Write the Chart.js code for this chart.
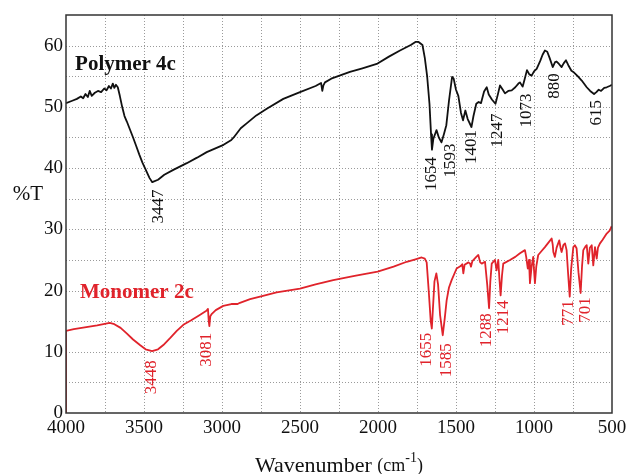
<!DOCTYPE html>
<html>
<head>
<meta charset="utf-8">
<script src="https://cdn.jsdelivr.net/npm/chart.js@4.4.1/dist/chart.umd.min.js"></script>
<style>
  html, body { margin: 0; padding: 0; background: #fff; }
  canvas { display: block; }
</style>
</head>
<body>
<canvas id="irChart" width="627" height="474"></canvas>
<script>
// IR spectra: [wavenumber cm-1, %T]
const polymer4c = [
  [4000, 50.6], [3960, 51.0], [3930, 51.3], [3905, 51.7], [3890, 51.4], [3875, 52.1],
  [3860, 51.6], [3848, 52.6], [3835, 51.8], [3815, 52.3], [3795, 52.6], [3775, 52.4],
  [3755, 53.0], [3740, 52.7], [3725, 53.4], [3712, 53.0], [3700, 53.8], [3690, 53.1],
  [3680, 53.6], [3668, 53.2], [3655, 51.8], [3640, 50.0], [3625, 48.5], [3610, 47.6],
  [3590, 46.3], [3570, 45.0], [3550, 43.6], [3530, 42.2], [3510, 40.9], [3490, 39.8],
  [3465, 38.4], [3447, 37.7], [3410, 38.1], [3370, 38.9], [3312, 39.7], [3226, 40.8],
  [3160, 41.7], [3098, 42.6], [2990, 43.8], [2940, 44.6], [2925, 45.0], [2880, 46.5],
  [2842, 47.3], [2780, 48.6], [2713, 49.7], [2607, 51.3], [2500, 52.4], [2400, 53.4],
  [2365, 53.9], [2357, 52.6], [2350, 53.5], [2340, 54.0], [2300, 54.6], [2180, 55.7],
  [2100, 56.3], [2008, 57.0], [1930, 58.2], [1859, 59.2], [1790, 60.1], [1760, 60.6],
  [1740, 60.6], [1715, 60.1], [1700, 58.0], [1685, 55.0], [1670, 50.5], [1660, 45.5],
  [1654, 43.0], [1645, 44.8], [1625, 46.2], [1610, 45.0], [1593, 44.2], [1578, 45.5],
  [1562, 47.0], [1545, 51.0], [1525, 54.9], [1515, 54.6], [1500, 52.8], [1485, 51.8],
  [1468, 49.0], [1455, 47.8], [1440, 49.4], [1425, 48.0], [1410, 47.2], [1401, 46.7],
  [1388, 48.5], [1370, 50.5], [1355, 50.8], [1340, 50.6], [1320, 52.5], [1303, 53.2],
  [1290, 52.0], [1270, 51.2], [1247, 50.5], [1232, 52.0], [1218, 53.5], [1200, 52.8],
  [1186, 52.2], [1165, 52.6], [1143, 52.7], [1120, 53.2], [1100, 53.8], [1090, 54.0],
  [1073, 53.3], [1060, 54.5], [1045, 56.0], [1030, 55.3], [1015, 55.1], [1000, 55.8],
  [983, 56.2], [960, 57.5], [945, 58.5], [930, 59.2], [915, 59.0], [900, 58.0],
  [880, 56.5], [865, 57.3], [855, 57.4], [840, 57.0], [823, 56.5], [810, 57.1],
  [795, 57.6], [780, 56.8], [760, 55.9], [748, 55.7], [720, 55.0], [694, 54.3],
  [662, 53.2], [640, 52.6], [615, 52.1], [600, 52.4], [585, 52.8], [570, 52.6],
  [550, 53.1], [534, 53.2], [515, 53.4], [500, 53.6]
];

const monomer2c = [
  [4000, 0], [4000, 13.4], [3950, 13.7], [3900, 13.9], [3850, 14.1], [3800, 14.3],
  [3760, 14.5], [3720, 14.7], [3690, 14.5], [3650, 13.9], [3611, 13.0], [3570, 12.0],
  [3526, 11.1], [3490, 10.4], [3448, 10.1], [3410, 10.4], [3376, 11.1], [3330, 12.3],
  [3290, 13.4], [3248, 14.4], [3200, 15.1], [3150, 15.9], [3100, 16.7], [3090, 17.0],
  [3085, 15.0], [3081, 14.2], [3075, 15.8], [3065, 16.2], [3040, 16.8], [2992, 17.5],
  [2940, 17.8], [2900, 17.8], [2885, 18.0], [2820, 18.6], [2756, 19.0], [2650, 19.7],
  [2500, 20.3], [2400, 21.0], [2287, 21.7], [2150, 22.4], [2002, 23.1], [1900, 23.9],
  [1816, 24.7], [1760, 25.1], [1720, 25.4], [1700, 25.2], [1688, 24.6], [1675, 20.0],
  [1662, 15.0], [1655, 13.8], [1648, 17.0], [1638, 21.5], [1626, 22.8], [1615, 21.0],
  [1602, 16.0], [1585, 12.7], [1572, 15.5], [1560, 18.4], [1545, 20.5], [1528, 21.7],
  [1496, 23.6], [1470, 24.0], [1460, 24.3], [1453, 22.8], [1445, 24.2], [1420, 24.6],
  [1410, 24.4], [1404, 23.9], [1395, 24.8], [1370, 25.5], [1357, 25.8], [1345, 24.6],
  [1335, 24.4], [1314, 24.7], [1300, 21.0], [1288, 17.1], [1280, 21.5], [1271, 24.4],
  [1250, 25.0], [1240, 23.3], [1229, 25.0], [1222, 22.0], [1214, 19.2], [1205, 22.5],
  [1197, 24.4], [1154, 25.0], [1120, 25.5], [1090, 26.1], [1058, 26.6], [1050, 25.5],
  [1040, 23.6], [1032, 25.0], [1026, 21.2], [1015, 24.0], [1005, 25.5], [999, 23.0],
  [994, 21.2], [985, 24.0], [973, 25.8], [950, 26.5], [930, 27.1], [905, 27.9],
  [887, 28.5], [880, 27.5], [876, 26.3], [866, 25.5], [855, 27.0], [838, 28.2],
  [830, 27.0], [823, 26.3], [812, 27.4], [801, 27.7], [791, 26.6], [782, 23.0],
  [771, 19.0], [762, 23.5], [748, 27.1], [738, 27.4], [727, 26.9], [715, 23.0],
  [701, 19.6], [692, 24.0], [684, 26.6], [670, 27.2], [662, 27.4], [652, 24.4],
  [642, 27.0], [630, 27.4], [620, 24.1], [609, 27.1], [598, 25.2], [590, 27.0],
  [577, 27.7], [560, 28.3], [534, 29.3], [515, 29.8], [502, 30.5]
];

// peak labels: [text, wavenumber at text centre, %T at top end of text]
const polymerPeaks = [
  ['3447', 3410, 36.5], ['1654', 1656, 41.8], ['1593', 1534, 44.0], ['1401', 1399, 46.2],
  ['1247', 1235, 48.9], ['1073', 1051, 52.2], ['880', 866, 55.5], ['615', 598, 51.1]
];
const monomerPeaks = [
  ['3448', 3451, 8.6], ['3081', 3098, 13.1], ['1655', 1688, 13.1], ['1585', 1560, 11.4],
  ['1288', 1303, 16.3], ['1214', 1197, 18.4], ['771', 780, 18.4], ['701', 669, 18.9]
];

const BLACK = '#111111';
const RED = '#e0232b';
const SERIF = '"Liberation Serif", "DejaVu Serif", serif';

const toPoints = arr => arr.map(p => ({ x: p[0], y: p[1] }));

// dotted grid, frame, peak labels and axis titles
const gridFrame = {
  id: 'gridFrame',
  beforeDraw(chart) {
    const { ctx } = chart;
    ctx.save();
    ctx.fillStyle = '#fff';
    ctx.fillRect(0, 0, chart.width, chart.height);
    ctx.restore();
  },
  beforeDatasetsDraw(chart) {
    const { ctx, chartArea: a, scales } = chart;
    ctx.save();
    ctx.strokeStyle = '#9a9a9a';
    ctx.lineWidth = 1;
    ctx.setLineDash([1, 2]);
    scales.x.ticks.forEach(t => {
      const px = Math.round(scales.x.getPixelForValue(t.value)) + 0.5;
      if (px <= a.left + 1 || px >= a.right - 1) return;
      ctx.beginPath(); ctx.moveTo(px, a.top); ctx.lineTo(px, a.bottom); ctx.stroke();
    });
    scales.y.ticks.forEach(t => {
      const py = Math.round(scales.y.getPixelForValue(t.value)) + 0.5;
      if (py <= a.top + 1 || py >= a.bottom - 1) return;
      ctx.beginPath(); ctx.moveTo(a.left, py); ctx.lineTo(a.right, py); ctx.stroke();
    });
    ctx.restore();
  },
  afterDatasetsDraw(chart) {
    const { ctx, chartArea: a, scales } = chart;
    ctx.save();
    ctx.strokeStyle = '#333';
    ctx.lineWidth = 1.5;
    ctx.strokeRect(a.left, a.top, a.right - a.left, a.bottom - a.top);

    const drawPeaks = (list, color) => {
      ctx.fillStyle = color;
      ctx.font = '17px ' + SERIF;
      ctx.textAlign = 'right';
      ctx.textBaseline = 'middle';
      list.forEach(([txt, wn, t]) => {
        const px = scales.x.getPixelForValue(wn);
        const py = scales.y.getPixelForValue(t);
        ctx.save();
        ctx.translate(px, py);
        ctx.rotate(-Math.PI / 2);
        ctx.fillText(txt, 0, 0);
        ctx.restore();
      });
    };
    drawPeaks(polymerPeaks, BLACK);
    drawPeaks(monomerPeaks, RED);

    // series names
    ctx.font = 'bold 21px ' + SERIF;
    ctx.textAlign = 'left';
    ctx.textBaseline = 'middle';
    ctx.fillStyle = BLACK;
    ctx.fillText('Polymer 4c', scales.x.getPixelForValue(3942), scales.y.getPixelForValue(56.9));
    ctx.fillStyle = RED;
    ctx.fillText('Monomer 2c', scales.x.getPixelForValue(3910), scales.y.getPixelForValue(19.6));

    // axis titles
    ctx.fillStyle = BLACK;
    ctx.font = '21px ' + SERIF;
    ctx.textAlign = 'center';
    ctx.fillText('%T', 28, 194);

    const cx = (a.left + a.right) / 2;
    const y = 466;
    const parts = [
      ['Wavenumber ', '22px ' + SERIF, 0],
      ['(cm', '18px ' + SERIF, 0],
      ['-1', '14px ' + SERIF, -8],
      [')', '18px ' + SERIF, 0]
    ];
    let total = 0;
    parts.forEach(p => { ctx.font = p[1]; total += ctx.measureText(p[0]).width; });
    let x = cx - total / 2;
    ctx.textAlign = 'left';
    parts.forEach(p => {
      ctx.font = p[1];
      ctx.fillText(p[0], x, y + p[2]);
      x += ctx.measureText(p[0]).width;
    });
    ctx.restore();
  }
};

new Chart(document.getElementById('irChart'), {
  type: 'line',
  data: {
    datasets: [
      { label: 'Polymer 4c', data: toPoints(polymer4c), borderColor: BLACK, borderWidth: 1.8 },
      { label: 'Monomer 2c', data: toPoints(monomer2c), borderColor: RED, borderWidth: 1.8 }
    ]
  },
  options: {
    responsive: false,
    animation: false,
    devicePixelRatio: 1,
    parsing: false,
    elements: { point: { radius: 0 }, line: { tension: 0, fill: false, borderJoinStyle: 'round' } },
    layout: { padding: { left: 0, top: 15, right: 15, bottom: 0 } },
    plugins: { legend: { display: false }, tooltip: { enabled: false } },
    scales: {
      x: {
        type: 'linear',
        min: 500,
        max: 4000,
        reverse: true,
        afterFit: s => { s.height = 61; s.paddingLeft = 0; s.paddingRight = 0; },
        grid: { display: false, drawTicks: false },
        border: { display: false },
        ticks: {
          stepSize: 250,
          autoSkip: false,
          maxRotation: 0,
          padding: 4,
          color: BLACK,
          font: { family: SERIF, size: 19 },
          callback: v => (v % 500 === 0 ? v : '')
        }
      },
      y: {
        min: 0,
        max: 65,
        afterFit: s => { s.width = 66; s.paddingTop = 0; s.paddingBottom = 0; },
        grid: { display: false, drawTicks: false },
        border: { display: false },
        ticks: {
          stepSize: 5,
          autoSkip: false,
          padding: 3,
          color: BLACK,
          font: { family: SERIF, size: 19 },
          callback: v => (v % 10 === 0 ? v : '')
        }
      }
    }
  },
  plugins: [gridFrame]
});
</script>
</body>
</html>
